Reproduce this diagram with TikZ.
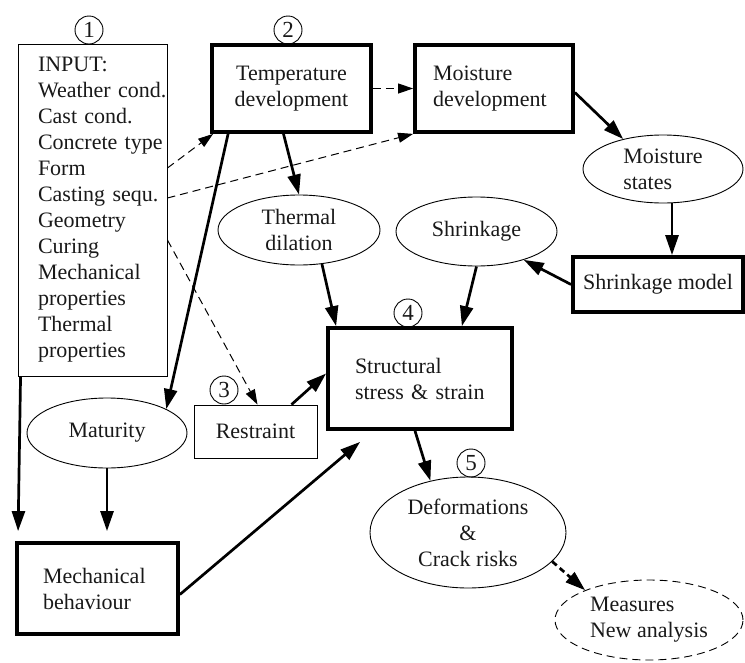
\documentclass[tikz,border=0pt]{standalone}
\usepackage{fontspec}
\setmainfont{Liberation Serif}
\usepackage{tikz}
\usetikzlibrary{shapes,arrows.meta,positioning,calc}
\definecolor{inkblack}{RGB}{25,25,25}

\begin{document}
\begin{tikzpicture}[x=1pt,y=-1pt,
    font=\fontsize{22}{26}\selectfont, text=inkblack,
    thinbox/.style={draw, line width=0.9pt, inner sep=0pt},
    thickbox/.style={draw, line width=3.8pt, inner sep=0pt},
    oval/.style={draw, ellipse, line width=0.9pt, inner sep=0pt},
    stepno/.style={draw, circle, line width=0.9pt, minimum size=28pt, inner sep=0pt, font=\fontsize{23}{23}\selectfont},
    flow/.style={line width=2.7pt, -{Triangle[length=20pt,width=13pt]}},
    hint/.style={line width=1pt, dash pattern=on 8pt off 5pt, -{Triangle[length=15pt,width=10pt]}},
    hintbold/.style={line width=2.7pt, dash pattern=on 6pt off 4pt, -{Triangle[length=20pt,width=13pt]}},
]
    \useasboundingbox (0,0) rectangle (745,662);

    % --- Input and development boxes ---
    \node[thinbox, minimum width=149pt, minimum height=332pt, text width=109pt, inner xsep=20pt, align=left] (inp) at (92.5,210)
        {INPUT:\\\mbox{Weather cond.}\\\mbox{Cast cond.}\\\mbox{Concrete type}\\Form\\\mbox{Casting sequ.}\\Geometry\\Curing\\Mechanical\\properties\\Thermal\\properties};
    \node[thickbox, minimum width=159pt, minimum height=87pt, align=center] (tmp) at (291.5,88.5) {Temperature\\development};
    \node[thickbox, minimum width=158pt, minimum height=87pt, text width=122pt, inner xsep=18pt, align=left] (mdv) at (494,88.5) {Moisture\\development};
    \node[oval, minimum width=160pt, minimum height=68pt, align=left] (mst) at (663,169) {Moisture\\states};
    \node[thickbox, minimum width=170pt, minimum height=55pt] (srm) at (658,284.5) {Shrinkage model};

    % --- Middle row ---
    \node[oval, minimum width=162pt, minimum height=70pt, align=center] (thd) at (299,230) {Thermal\\dilation};
    \node[oval, minimum width=161pt, minimum height=69pt] (shr) at (476.5,231.5) {Shrinkage};
    \node[thickbox, minimum width=184pt, minimum height=101pt, text width=130pt, inner xsep=27pt, align=left] (str) at (420,378.5) {Structural\\stress \& strain};
    \node[thinbox, minimum width=123pt, minimum height=53pt] (rst) at (255.5,431.5) {Restraint};
    \node[oval, minimum width=160pt, minimum height=70pt] (mat) at (107,433) {Maturity};

    % --- Bottom row ---
    \node[thickbox, minimum width=161pt, minimum height=91pt, text width=109pt, inner xsep=26pt, align=left] (mbh) at (97.5,588.5) {Mechanical\\behaviour};
    \node[oval, minimum width=196pt, minimum height=111pt, align=center] (dfm) at (468,532.5) {Deformations\\\&\\Crack risks};
    \node[oval, dash pattern=on 8pt off 5pt, minimum width=188pt, minimum height=80pt, align=left] (mea) at (649,620) {Measures\\New analysis};

    % --- Step numbers ---
    \node[stepno] (n1) at (89,30) {1};
    \node[stepno] (n2) at (288,30) {2};
    \node[stepno] (n3) at (224,390) {3};
    \node[stepno] (n4) at (408,313) {4};
    \node[stepno] (n5) at (471,463) {5};

    % --- Connectors ---
    \draw[hint] ([yshift=42pt]inp.east) -- ([xshift=3pt]tmp.south west);
    \draw[hint] ([yshift=12pt]inp.east) -- (mdv.south west);
    \draw[hint] ([yshift=-30pt]inp.east) -- ([xshift=2pt]rst.north);
    \draw[hint] (tmp.east) -- (mdv.west);
    \draw[flow] ([xshift=3pt]inp.south west) -- ([xshift=3pt,yshift=10pt]mbh.north west);
    \draw[flow] (mat.south) -- ([yshift=10pt]mat.south |- mbh.north);
    \draw[flow] ([xshift=18pt]tmp.south west) -- (mat.22);
    \draw[flow] ([xshift=-8pt]tmp.south) -- (thd.north);
    \draw[flow] (thd.-56) -- ([xshift=10pt]str.north west);
    \draw[flow] (shr.south) -- ([xshift=-52pt]str.north east);
    \draw[flow] ([yshift=-4pt]mdv.east) -- (mst.143);
    \draw[flow] ([xshift=9pt]mst.south) -- ([xshift=14pt]srm.north);
    \draw[flow] (srm.west) -- (shr.-31);
    \draw[flow] ([xshift=36pt]rst.north) -- ([yshift=5pt]str.west);
    \draw[flow] ([yshift=-6pt]mbh.east) -- ([xshift=34pt,yshift=-11pt]str.south west);
    \draw[flow] ([xshift=-5pt]str.south) -- (dfm.126);
    \draw[hintbold] (dfm.-19) -- (mea.155);
\end{tikzpicture}
\end{document}
